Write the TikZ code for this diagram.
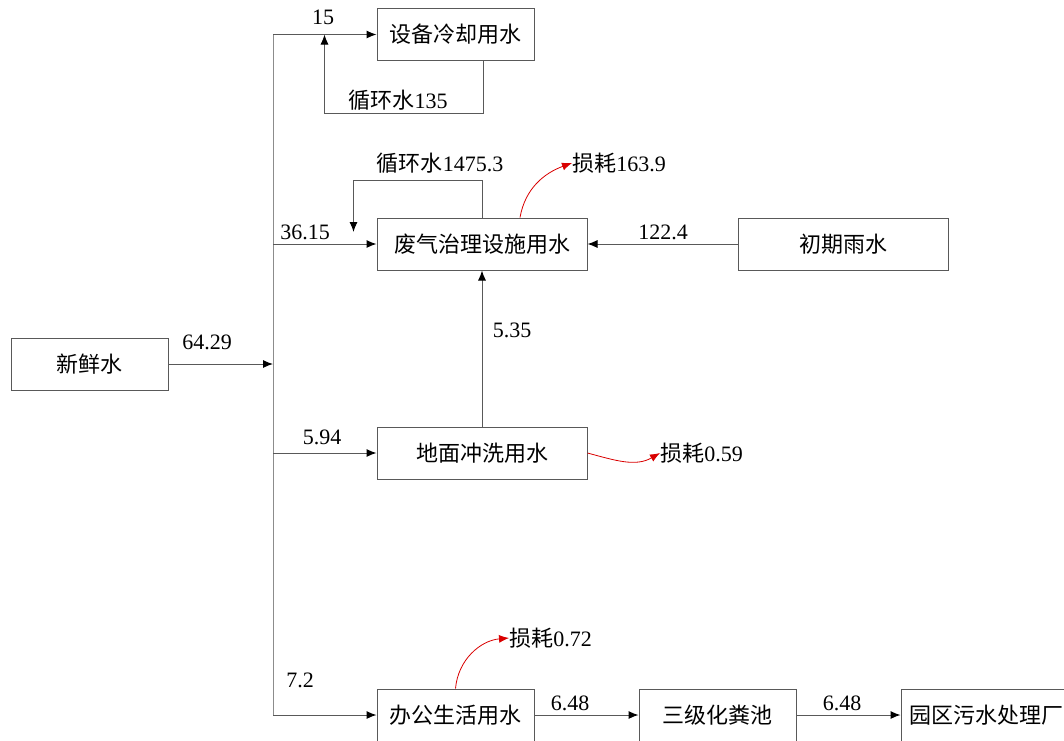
\documentclass[tikz,border=0pt]{standalone}
\usepackage{fontspec}
\setmainfont{Liberation Serif}
\newfontfamily\cjk{Noto Sans CJK SC}
\usetikzlibrary{arrows.meta}

\begin{document}
\begin{tikzpicture}[x=0.5pt,y=-0.5pt,font=\fontsize{11}{13}\selectfont,
   box/.style={draw=black!65,line width=0.5pt,minimum height=26pt,inner sep=0pt,font=\fontsize{11}{13}\selectfont\cjk},
   flow/.style={black!65,line width=0.5pt,-{Latex[length=5pt,width=4pt,color=black]}},
   loss/.style={red!85!black,line width=0.4pt,-{Latex[length=5pt,width=4pt]}}]
   \useasboundingbox (0,0) rectangle (1064,740);
   \clip (0,0) rectangle (1064,740);
   % boxes
   \node [box,minimum width=78.5pt] (fresh) at (89.5,364) {新鲜水};
   \node [box,minimum width=78.5pt] (cool) at (455.5,34.5) {设备冷却用水};
   \node [box,minimum width=105pt] (gas) at (482,244) {废气治理设施用水};
   \node [box,minimum width=105pt] (rain) at (843,244) {初期雨水};
   \node [box,minimum width=105pt] (floor) at (482,453) {地面冲洗用水};
   \node [box,minimum width=78.5pt] (office) at (455.5,715) {办公生活用水};
   \node [box,minimum width=78.5pt] (septic) at (717.5,715) {三级化粪池};
   \node [box,minimum width=85pt] (park) at (986,715) {园区污水处理厂};
   % trunk
   \coordinate (ttop) at (273,34.5);
   \coordinate (tmid) at (273,364);
   \coordinate (tbot) at (273,715);
   \draw [black!45,line width=0.5pt] (ttop) -- (tbot);
   \draw [flow] (fresh.east) -- (tmid);
   \draw [flow] (ttop) -- (cool.west);
   \draw [flow] (ttop |- gas.west) -- (gas.west);
   \draw [flow] (ttop |- floor.west) -- (floor.west);
   \draw [flow] (ttop |- office.west) -- (office.west);
   \draw [flow] (rain.west) -- (gas.east);
   \draw [flow] (floor.north) -- (gas.south);
   \draw [flow] (office.east) -- (septic.west);
   \draw [flow] (septic.east) -- (park.west);
   % recirculation
   \draw [flow] ([xshift=13.75pt]cool.south) -- ++(0,52) -| ([xshift=-26pt]cool.west);
   \draw [flow] (gas.north) -- ++(0,-37) -| ([xshift=-11.5pt,yshift=6pt]gas.west);
   % numbers
   \node (n15) at (323,17) {15};
   \node (n6429) at (207,342) {64.29};
   \node (n3615) at (305,232) {36.15};
   \node (n1224) at (663,232) {122.4};
   \node (n535) at (512,330) {5.35};
   \node (n594) at (322,437) {5.94};
   \node (n72) at (300,680) {7.2};
   \node (n648a) at (570,703) {6.48};
   \node (n648b) at (842,703) {6.48};
   \node (r135) at (398,100) {{\cjk 循环水}135};
   \node (r1475) at (440,163) {{\cjk 循环水}1475.3};
   % losses
   \node [anchor=west,inner sep=0pt] (loss1) at (572,163) {{\cjk 损耗}163.9};
   \node [anchor=west,inner sep=0pt] (loss2) at (660,453) {{\cjk 损耗}0.59};
   \node [anchor=west,inner sep=0pt] (loss3) at (509,638) {{\cjk 损耗}0.72};
   \draw [loss] ([xshift=19pt]gas.north) to[out=80,in=200] (loss1.west);
   \draw [loss] (floor.east) to[out=-15,in=210] (loss2.west);
   \draw [loss] (office.north) to[out=85,in=185] (loss3.west);
\end{tikzpicture}
\end{document}
